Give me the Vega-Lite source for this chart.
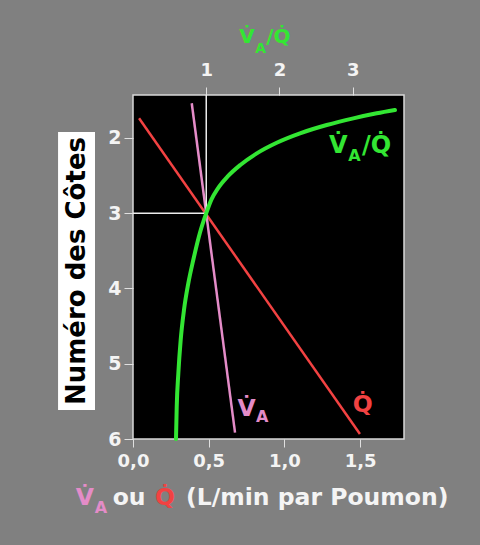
{
  "$schema": "https://vega.github.io/schema/vega-lite/v6.json",
  "width": 271,
  "height": 344,
  "autosize": {"type": "none"},
  "padding": {"left": 133, "top": 95, "right": 76, "bottom": 106},
  "background": "#808080",
  "config": {
    "view": {"fill": "#000000", "stroke": "#d8d8d8", "strokeWidth": 1.5},
    "font": "DejaVu Sans",
    "axis": {
      "grid": false,
      "domain": false,
      "tickColor": "#e0e0e0",
      "tickWidth": 1,
      "labelColor": "#f4f4f4",
      "labelFont": "DejaVu Sans",
      "labelFontWeight": "bold",
      "labelFontSize": 18,
      "title": null
    },
    "text": {"font": "DejaVu Sans", "fontWeight": "bold"}
  },
  "datasets": {
    "debits": [
      {"serie": "Q", "debit": 0.040, "cote": 1.740},
      {"serie": "Q", "debit": 1.499, "cote": 5.934},
      {"serie": "VA", "debit": 0.388, "cote": 1.540},
      {"serie": "VA", "debit": 0.674, "cote": 5.916}
    ],
    "vq": [
      {"ratio": 0.587, "cote": 6.0},
      {"ratio": 0.597, "cote": 5.571},
      {"ratio": 0.619, "cote": 5.127},
      {"ratio": 0.651, "cote": 4.685},
      {"ratio": 0.696, "cote": 4.286},
      {"ratio": 0.755, "cote": 3.932},
      {"ratio": 0.823, "cote": 3.622},
      {"ratio": 0.912, "cote": 3.267},
      {"ratio": 1.0, "cote": 3.0},
      {"ratio": 1.07, "cote": 2.82},
      {"ratio": 1.16, "cote": 2.67},
      {"ratio": 1.29, "cote": 2.515},
      {"ratio": 1.465, "cote": 2.360},
      {"ratio": 1.69, "cote": 2.205},
      {"ratio": 1.962, "cote": 2.064},
      {"ratio": 2.280, "cote": 1.939},
      {"ratio": 2.645, "cote": 1.829},
      {"ratio": 3.008, "cote": 1.740},
      {"ratio": 3.327, "cote": 1.673},
      {"ratio": 3.577, "cote": 1.629}
    ],
    "reperes": [
      {"ratio": 1, "ratio_fin": 1, "cote": 1.43, "cote_fin": 3},
      {"ratio": 0, "ratio_fin": 1, "cote": 3, "cote_fin": 3}
    ],
    "boite": [
      {"debit": -0.495, "debit_fin": -0.251, "cote": 1.922, "cote_fin": 5.615, "texte": "Numéro des Côtes", "debit_c": -0.373, "cote_c": 3.768}
    ],
    "textes_bas": [
      {"texte": "V\u0307", "serie": "VA", "debit": 0.690, "cote": 5.695, "role": "grand"},
      {"texte": "Q\u0307", "serie": "Q", "debit": 1.451, "cote": 5.641, "role": "grand"},
      {"texte": "V\u0307", "serie": "VA", "debit": -0.378, "cote": 6.877, "role": "grand"},
      {"texte": "ou", "serie": "autre", "debit": -0.134, "cote": 6.877, "role": "grand"},
      {"texte": "Q\u0307", "serie": "Q", "debit": 0.145, "cote": 6.877, "role": "grand"},
      {"texte": "(L/min par Poumon)", "serie": "autre", "debit": 0.350, "cote": 6.877, "role": "grand"},
      {"texte": "A", "serie": "VA", "debit": 0.812, "cote": 5.770, "role": "indice"},
      {"texte": "A", "serie": "VA", "debit": -0.252, "cote": 6.979, "role": "indice"}
    ],
    "textes_haut": [
      {"texte": "V\u0307", "ratio": 2.675, "cote": 2.201, "role": "etiquette"},
      {"texte": "/Q\u0307", "ratio": 3.125, "cote": 2.201, "role": "etiquette"},
      {"texte": "A", "ratio": 2.940, "cote": 2.303, "role": "etiquette_indice"},
      {"texte": "V\u0307", "ratio": 1.450, "cote": 0.735, "role": "titre"},
      {"texte": "/Q\u0307", "ratio": 1.820, "cote": 0.735, "role": "titre"},
      {"texte": "A", "ratio": 1.668, "cote": 0.868, "role": "titre_indice"}
    ]
  },
  "resolve": {"scale": {"x": "independent"}},
  "layer": [
    {
      "layer": [
        {
          "data": {"name": "boite"},
          "mark": {"type": "rect", "fill": "#ffffff", "clip": false},
          "encoding": {
            "x": {"field": "debit", "type": "quantitative", "scale": {"domain": [0, 1.79], "nice": false, "zero": false}, "axis": {"orient": "bottom", "values": [0, 0.5, 1, 1.5], "labelExpr": "replace(format(datum.value, '.1f'), '.', ',')", "tickSize": 8, "labelPadding": 5, "labelFlush": false}},
            "x2": {"field": "debit_fin"},
            "y": {"field": "cote", "type": "quantitative", "scale": {"domain": [1.43, 6], "reverse": true, "nice": false, "zero": false}, "axis": {"values": [2, 3, 4, 5, 6], "format": "d", "tickSize": 9, "labelPadding": 3, "labelFlush": false, "labelFontSize": 19}},
            "y2": {"field": "cote_fin"}
          }
        },
        {
          "data": {"name": "boite"},
          "mark": {"type": "text", "angle": 270, "align": "center", "baseline": "middle", "fontSize": 26, "color": "#000000", "clip": false},
          "encoding": {
            "x": {"field": "debit_c", "type": "quantitative"},
            "y": {"field": "cote_c", "type": "quantitative"},
            "text": {"field": "texte"}
          }
        },
        {
          "data": {"name": "debits"},
          "mark": {"type": "line", "strokeWidth": 2.5, "clip": false},
          "encoding": {
            "x": {"field": "debit", "type": "quantitative"},
            "y": {"field": "cote", "type": "quantitative"},
            "color": {"field": "serie", "type": "nominal", "scale": {"domain": ["VA", "Q", "autre"], "range": ["#e48cc8", "#f24242", "#f4f4f4"]}, "legend": null}
          }
        },
        {
          "data": {"name": "textes_bas"},
          "transform": [{"filter": "datum.role == 'grand'"}],
          "mark": {"type": "text", "align": "left", "baseline": "alphabetic", "fontSize": 23.5, "clip": false},
          "encoding": {
            "x": {"field": "debit", "type": "quantitative"},
            "y": {"field": "cote", "type": "quantitative"},
            "text": {"field": "texte"},
            "color": {"field": "serie", "type": "nominal", "legend": null}
          }
        },
        {
          "data": {"name": "textes_bas"},
          "transform": [{"filter": "datum.role == 'indice'"}],
          "mark": {"type": "text", "align": "left", "baseline": "alphabetic", "fontSize": 16, "clip": false},
          "encoding": {
            "x": {"field": "debit", "type": "quantitative"},
            "y": {"field": "cote", "type": "quantitative"},
            "text": {"field": "texte"},
            "color": {"field": "serie", "type": "nominal", "legend": null}
          }
        }
      ]
    },
    {
      "layer": [
        {
          "data": {"name": "reperes"},
          "mark": {"type": "rule", "color": "#ececec", "strokeWidth": 1.5, "clip": false},
          "encoding": {
            "x": {"field": "ratio", "type": "quantitative", "scale": {"domain": [0, 3.7], "nice": false, "zero": false}, "axis": {"orient": "top", "values": [1, 2, 3], "format": "d", "tickSize": 8, "labelPadding": 8, "labelFlush": false}},
            "x2": {"field": "ratio_fin"},
            "y": {"field": "cote", "type": "quantitative"},
            "y2": {"field": "cote_fin"}
          }
        },
        {
          "data": {"name": "vq"},
          "mark": {"type": "line", "color": "#33e633", "strokeWidth": 4, "strokeCap": "round", "interpolate": "monotone", "clip": false},
          "encoding": {
            "x": {"field": "ratio", "type": "quantitative"},
            "y": {"field": "cote", "type": "quantitative"}
          }
        },
        {
          "data": {"name": "textes_haut"},
          "transform": [{"filter": "datum.role == 'etiquette'"}],
          "mark": {"type": "text", "align": "left", "baseline": "alphabetic", "fontSize": 24, "color": "#33e633", "clip": false},
          "encoding": {
            "x": {"field": "ratio", "type": "quantitative"},
            "y": {"field": "cote", "type": "quantitative"},
            "text": {"field": "texte"}
          }
        },
        {
          "data": {"name": "textes_haut"},
          "transform": [{"filter": "datum.role == 'etiquette_indice'"}],
          "mark": {"type": "text", "align": "left", "baseline": "alphabetic", "fontSize": 16, "color": "#33e633", "clip": false},
          "encoding": {
            "x": {"field": "ratio", "type": "quantitative"},
            "y": {"field": "cote", "type": "quantitative"},
            "text": {"field": "texte"}
          }
        },
        {
          "data": {"name": "textes_haut"},
          "transform": [{"filter": "datum.role == 'titre'"}],
          "mark": {"type": "text", "align": "left", "baseline": "alphabetic", "fontSize": 20, "color": "#33e633", "clip": false},
          "encoding": {
            "x": {"field": "ratio", "type": "quantitative"},
            "y": {"field": "cote", "type": "quantitative"},
            "text": {"field": "texte"}
          }
        },
        {
          "data": {"name": "textes_haut"},
          "transform": [{"filter": "datum.role == 'titre_indice'"}],
          "mark": {"type": "text", "align": "left", "baseline": "alphabetic", "fontSize": 14, "color": "#33e633", "clip": false},
          "encoding": {
            "x": {"field": "ratio", "type": "quantitative"},
            "y": {"field": "cote", "type": "quantitative"},
            "text": {"field": "texte"}
          }
        }
      ]
    }
  ]
}
